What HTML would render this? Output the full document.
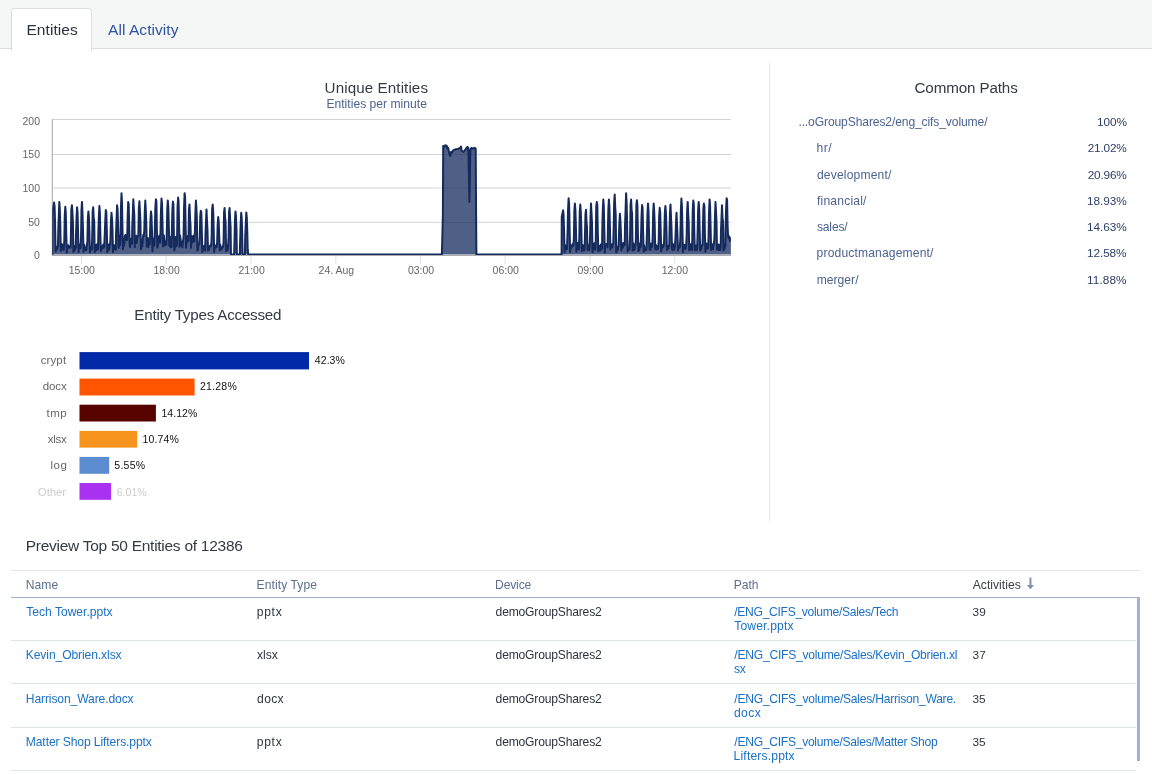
<!DOCTYPE html>
<html><head><meta charset="utf-8"><title>Entities</title>
<style>
html,body{margin:0;padding:0;background:#fff;}
body{width:1152px;height:774px;position:relative;overflow:hidden;font-family:"Liberation Sans", sans-serif;}
.t{position:absolute;white-space:pre;font-family:"Liberation Sans", sans-serif;}
.hdr{position:absolute;left:0;top:0;width:1152px;height:48px;background:#f5f7f7;border-bottom:1px solid #dbdcdd;}
.tab{position:absolute;left:11px;top:8px;width:79px;height:42px;background:#fff;border:1px solid #dcdedf;border-bottom:none;border-radius:4px 4px 0 0;}
.vdiv{position:absolute;left:769px;top:63px;width:1px;height:458px;background:#e5e8ec;}
.chart{position:absolute;left:0;top:0;}
.bar{position:absolute;}
.hl{position:absolute;height:1px;}
.wrap{position:absolute;left:0;top:0;width:1152px;height:774px;will-change:transform;}
</style></head><body>
<div class="wrap"><div class="hdr"></div><div class="tab"></div>
<div class="vdiv"></div>
<svg class='chart' width='1152' height='300' viewBox='0 0 1152 300'>
<line x1='52' x2='731' y1='119.5' y2='119.5' stroke='#d3d3d3' stroke-width='1'/><line x1='52' x2='731' y1='154.5' y2='154.5' stroke='#d3d3d3' stroke-width='1'/><line x1='52' x2='731' y1='188.0' y2='188.0' stroke='#d3d3d3' stroke-width='1'/><line x1='52' x2='731' y1='222.3' y2='222.3' stroke='#d3d3d3' stroke-width='1'/>
<line x1='52' x2='731' y1='255.55' y2='255.55' stroke='#a8a8a8' stroke-width='1'/>
<line x1='52.35' x2='52.35' y1='119.3' y2='256' stroke='#b4b4b4' stroke-width='1.2'/>
<line x1='81.5' x2='81.5' y1='256' y2='264' stroke='#dde3f2' stroke-width='1'/><line x1='166.2' x2='166.2' y1='256' y2='264' stroke='#dde3f2' stroke-width='1'/><line x1='251.0' x2='251.0' y1='256' y2='264' stroke='#dde3f2' stroke-width='1'/><line x1='335.8' x2='335.8' y1='256' y2='264' stroke='#dde3f2' stroke-width='1'/><line x1='420.5' x2='420.5' y1='256' y2='264' stroke='#dde3f2' stroke-width='1'/><line x1='505.2' x2='505.2' y1='256' y2='264' stroke='#dde3f2' stroke-width='1'/><line x1='590.0' x2='590.0' y1='256' y2='264' stroke='#dde3f2' stroke-width='1'/><line x1='674.8' x2='674.8' y1='256' y2='264' stroke='#dde3f2' stroke-width='1'/>
<defs><clipPath id='cp'><rect x='52.3' y='119' width='678.6' height='136.1'/></clipPath></defs>
<g clip-path='url(#cp)'><path d='M52.30,254.6 L52.45,210.4 L54.10,202.6 L54.60,206.9 L55.10,224.4 L55.60,251.5 L56.07,247.5 L56.54,246.9 L57.02,249.6 L57.49,247.4 L57.96,246.6 L58.25,231.0 L58.75,216.7 L59.30,201.9 L59.80,209.3 L60.30,225.5 L60.80,250.8 L61.27,250.6 L61.74,244.3 L62.22,244.4 L62.69,246.5 L63.16,246.7 L63.63,249.8 L64.25,242.4 L64.75,215.5 L65.30,206.7 L65.80,212.8 L66.30,234.9 L66.80,252.8 L67.27,247.8 L67.74,247.9 L68.22,245.2 L68.69,247.4 L69.16,246.6 L69.63,247.5 L70.10,246.4 L70.57,247.8 L70.85,238.9 L71.35,209.3 L71.90,205.3 L72.40,211.7 L72.90,222.0 L73.40,252.0 L73.87,249.3 L74.34,248.9 L74.82,250.4 L75.29,245.7 L75.76,248.2 L76.05,232.8 L76.55,217.5 L77.10,207.3 L77.60,213.4 L78.10,233.3 L78.60,252.3 L79.07,244.7 L79.54,247.7 L80.02,244.3 L80.49,248.2 L80.95,240.5 L81.45,210.5 L82.00,201.9 L82.50,214.1 L83.00,229.5 L83.50,251.9 L83.97,244.4 L84.44,245.8 L84.92,250.1 L85.39,249.2 L85.86,250.2 L86.33,250.5 L86.80,245.5 L87.35,241.9 L87.85,219.0 L88.40,211.4 L88.90,216.9 L89.40,231.6 L89.90,252.5 L90.37,246.5 L90.84,250.1 L91.32,248.0 L91.79,249.5 L92.15,239.6 L92.65,211.4 L93.20,207.3 L93.70,218.0 L94.20,220.8 L94.70,252.3 L95.17,248.2 L95.64,245.1 L96.12,246.6 L96.59,250.2 L97.06,244.2 L97.53,249.4 L98.00,249.1 L98.35,233.1 L98.85,217.1 L99.40,206.0 L99.90,212.9 L100.40,236.5 L100.90,251.1 L101.37,249.2 L101.84,246.8 L102.32,248.4 L102.79,247.8 L103.26,244.4 L103.73,247.6 L104.20,247.0 L104.75,233.8 L105.25,221.6 L105.80,210.0 L106.30,211.9 L106.80,229.9 L107.30,252.2 L107.77,249.6 L108.24,245.9 L108.72,244.5 L109.19,249.6 L109.66,244.5 L110.13,244.9 L110.45,237.8 L110.95,221.4 L111.50,212.8 L112.00,218.8 L112.50,229.9 L113.00,252.2 L113.47,246.1 L113.94,249.2 L114.42,245.3 L114.89,246.9 L115.36,248.9 L115.83,249.7 L116.05,233.4 L116.55,219.4 L117.10,205.3 L117.60,209.4 L118.10,226.9 L118.60,247.8 L119.07,244.0 L119.54,235.8 L120.02,244.9 L120.45,239.0 L120.95,208.0 L121.50,193.2 L122.00,201.9 L122.50,230.4 L123.00,249.3 L123.47,240.2 L123.94,245.9 L124.42,242.9 L124.89,236.1 L125.36,235.0 L125.83,239.1 L126.30,238.7 L126.77,240.1 L127.15,239.6 L127.65,217.3 L128.20,201.9 L128.70,204.1 L129.20,226.9 L129.70,245.8 L130.17,247.3 L130.64,239.4 L131.12,241.4 L131.59,238.2 L132.06,243.5 L132.25,226.9 L132.75,214.9 L133.30,199.2 L133.80,207.4 L134.30,214.7 L134.80,247.1 L135.27,238.5 L135.74,237.4 L136.22,235.8 L136.69,243.0 L137.16,238.8 L137.63,236.0 L138.10,236.4 L138.35,235.7 L138.85,208.0 L139.40,201.3 L139.90,210.7 L140.40,220.6 L140.90,249.2 L141.37,240.1 L141.84,239.7 L142.32,246.5 L142.79,239.3 L143.26,234.8 L143.73,236.3 L144.25,231.3 L144.75,212.2 L145.30,200.6 L145.80,210.1 L146.30,223.2 L146.80,246.6 L147.27,246.5 L147.74,237.9 L148.22,247.2 L148.69,239.8 L149.16,241.4 L149.63,244.6 L149.95,236.3 L150.45,219.6 L151.00,211.4 L151.50,216.3 L152.00,231.8 L152.50,251.3 L152.97,243.7 L153.44,238.8 L153.92,244.9 L154.39,245.4 L154.85,228.2 L155.35,207.8 L155.90,199.2 L156.40,201.6 L156.90,230.7 L157.40,247.6 L157.87,245.0 L158.34,242.0 L158.82,237.2 L159.29,235.8 L159.76,236.3 L160.23,242.6 L160.45,232.4 L160.95,211.5 L161.50,198.6 L162.00,203.6 L162.50,223.3 L163.00,246.5 L163.47,238.4 L163.94,235.4 L164.42,244.0 L164.89,245.4 L165.36,241.8 L165.83,244.0 L166.30,244.8 L166.75,235.5 L167.25,209.4 L167.80,200.6 L168.30,206.7 L168.80,224.4 L169.30,245.7 L169.77,241.7 L170.24,246.6 L170.72,247.1 L171.19,236.4 L171.66,247.0 L171.85,232.0 L172.35,210.9 L172.90,201.6 L173.40,204.5 L173.90,235.8 L174.40,250.6 L174.87,241.7 L175.34,247.2 L175.82,236.9 L176.29,244.5 L176.76,245.7 L177.05,239.7 L177.55,206.7 L178.10,197.5 L178.60,201.7 L179.10,225.3 L179.60,246.7 L180.07,235.3 L180.54,238.8 L181.02,245.0 L181.49,241.5 L181.96,245.3 L182.43,247.4 L182.90,241.5 L183.37,238.4 L183.55,236.5 L184.05,207.9 L184.60,193.2 L185.10,197.2 L185.60,225.1 L186.10,247.8 L186.57,237.8 L187.04,242.5 L187.52,237.4 L187.99,235.9 L188.45,241.0 L188.95,209.4 L189.50,204.6 L190.00,217.5 L190.50,225.3 L191.00,247.8 L191.47,235.9 L191.94,242.7 L192.42,240.3 L192.89,236.3 L193.36,237.3 L193.83,235.4 L194.30,241.6 L194.85,232.3 L195.35,214.4 L195.90,200.6 L196.40,207.8 L196.90,219.9 L197.40,250.7 L197.87,249.4 L198.34,244.8 L198.82,244.3 L199.29,244.3 L199.75,237.7 L200.25,216.3 L200.80,210.7 L201.30,212.5 L201.80,229.9 L202.30,251.9 L202.77,250.3 L203.24,247.9 L203.72,247.2 L204.19,245.7 L204.66,247.6 L205.13,250.7 L205.45,234.1 L205.95,222.3 L206.50,209.4 L207.00,220.6 L207.50,229.7 L208.00,250.5 L208.47,249.9 L208.94,249.9 L209.42,247.4 L209.89,246.0 L210.36,245.2 L210.83,246.2 L211.30,244.5 L211.65,236.0 L212.15,209.2 L212.70,204.6 L213.20,210.8 L213.70,230.5 L214.20,252.0 L214.67,246.0 L215.14,246.6 L215.62,247.4 L216.09,245.2 L216.56,247.1 L217.15,242.3 L217.65,225.2 L218.20,217.1 L218.70,221.6 L219.20,235.4 L219.70,250.3 L220.17,244.4 L220.64,247.3 L221.12,247.0 L221.59,249.5 L222.06,247.3 L222.53,247.5 L223.00,246.8 L223.55,242.6 L224.05,212.1 L224.60,208.0 L225.10,217.7 L225.60,222.4 L226.10,251.2 L226.57,247.6 L227.04,246.2 L227.52,250.4 L227.99,247.3 L228.55,238.1 L229.05,212.2 L229.60,208.0 L230.10,218.8 L230.60,227.0 L230.95,254.4 L234.10,254.4 L234.45,242.4 L234.95,220.2 L235.50,211.4 L236.00,216.5 L236.50,229.0 L236.85,254.4 L239.80,254.4 L240.15,240.8 L240.65,223.5 L241.20,212.8 L241.70,217.5 L242.20,234.1 L242.55,254.4 L244.90,254.4 L245.25,235.8 L245.75,224.9 L246.30,212.4 L246.80,217.6 L247.30,232.6 L247.70,249.2 L248.20,254.4 L425.00,254.4 L441.90,254.4 L442.90,214.1 L443.20,145.9 L444.50,146.6 L445.20,145.2 L446.80,145.9 L447.30,148.6 L448.20,147.9 L449.20,153.3 L450.20,156.0 L451.00,152.0 L452.00,152.7 L452.80,150.6 L454.00,150.0 L455.50,149.3 L457.00,149.0 L458.50,148.6 L460.00,147.9 L461.00,146.6 L461.60,150.6 L462.50,151.3 L463.50,152.0 L464.50,150.6 L465.50,149.3 L466.50,147.9 L467.50,146.9 L468.30,147.9 L468.90,173.6 L469.40,201.9 L469.90,173.6 L470.40,149.3 L471.50,147.9 L473.00,148.6 L474.50,147.9 L475.70,148.6 L476.10,214.1 L476.40,254.4 L561.20,254.4 L561.60,254.6 L561.75,216.9 L563.10,210.3 L563.60,215.0 L564.10,232.2 L564.60,252.4 L565.07,245.1 L565.54,249.6 L566.02,246.7 L566.49,248.7 L566.96,249.0 L567.55,233.0 L568.05,209.7 L568.60,198.2 L569.10,203.8 L569.60,227.4 L570.10,252.2 L570.57,249.0 L571.04,245.8 L571.52,245.8 L571.99,246.6 L572.46,244.2 L572.93,246.0 L573.40,244.2 L573.85,238.9 L574.35,210.6 L574.90,203.6 L575.40,209.6 L575.90,226.8 L576.40,251.7 L576.87,243.7 L577.34,248.9 L577.82,243.1 L578.29,243.9 L578.76,249.5 L579.25,239.1 L579.75,211.7 L580.30,204.6 L580.80,211.6 L581.30,226.7 L581.80,251.3 L582.27,244.7 L582.74,249.6 L583.22,247.5 L583.69,245.4 L584.16,250.4 L584.63,249.0 L584.95,235.8 L585.45,214.3 L586.00,209.8 L586.50,221.4 L587.00,227.7 L587.50,250.2 L587.97,246.8 L588.44,245.4 L588.92,249.1 L589.39,250.0 L589.95,240.5 L590.45,218.5 L591.00,203.6 L591.50,213.2 L592.00,223.0 L592.50,252.3 L592.97,249.1 L593.44,249.0 L593.92,244.3 L594.39,243.2 L594.86,243.6 L595.33,249.8 L595.75,240.6 L596.25,206.7 L596.80,201.9 L597.30,205.0 L597.80,231.9 L598.30,251.2 L598.77,246.7 L599.24,247.3 L599.72,246.1 L600.19,250.4 L600.66,245.3 L601.13,244.2 L601.60,249.2 L602.07,247.1 L602.25,230.6 L602.75,211.0 L603.30,199.4 L603.80,206.6 L604.30,228.2 L604.80,252.7 L605.27,243.9 L605.74,244.6 L606.22,245.3 L606.69,244.1 L607.16,245.8 L607.63,247.5 L607.85,232.5 L608.35,209.8 L608.90,199.4 L609.40,206.8 L609.90,225.5 L610.40,249.7 L610.87,245.0 L611.34,244.7 L611.82,244.5 L612.29,247.5 L612.76,243.9 L613.23,244.0 L613.65,229.1 L614.15,202.4 L614.70,194.5 L615.20,207.0 L615.70,214.5 L616.20,252.5 L616.67,248.0 L617.14,247.0 L617.62,250.4 L618.09,247.9 L618.56,245.8 L618.85,238.0 L619.35,223.9 L619.90,213.7 L620.40,220.2 L620.90,232.0 L621.40,250.5 L621.87,246.3 L622.34,246.6 L622.82,247.6 L623.29,243.1 L623.76,245.7 L624.23,245.3 L624.70,244.9 L625.05,224.3 L625.55,211.4 L626.10,193.3 L626.60,202.3 L627.10,222.3 L627.60,251.4 L628.07,250.1 L628.54,249.1 L629.02,247.7 L629.49,249.8 L630.05,237.3 L630.55,204.9 L631.10,199.4 L631.60,209.8 L632.10,213.7 L632.60,250.8 L633.07,243.1 L633.54,245.8 L634.02,244.5 L634.49,250.0 L634.96,246.1 L635.43,244.9 L635.85,240.4 L636.35,205.4 L636.90,200.3 L637.40,205.3 L637.90,233.3 L638.40,251.1 L638.87,246.0 L639.34,250.1 L639.82,243.5 L640.29,247.4 L640.76,246.6 L641.05,234.8 L641.55,215.8 L642.10,204.9 L642.60,208.5 L643.10,230.2 L643.60,251.8 L644.07,245.2 L644.54,248.3 L645.02,250.4 L645.49,248.7 L645.96,250.2 L646.43,249.4 L646.95,232.2 L647.45,214.6 L648.00,203.6 L648.50,211.0 L649.00,230.9 L649.50,249.4 L649.97,243.5 L650.44,250.0 L650.92,243.8 L651.39,247.3 L651.86,247.0 L652.33,243.3 L652.65,238.8 L653.15,213.1 L653.70,203.6 L654.20,211.3 L654.70,224.5 L655.20,249.5 L655.67,244.5 L656.14,246.0 L656.62,249.7 L657.09,245.9 L657.56,247.1 L658.03,249.0 L658.65,242.3 L659.15,216.4 L659.70,207.8 L660.20,212.3 L660.70,230.4 L661.20,251.2 L661.67,248.6 L662.14,246.2 L662.62,247.4 L663.09,244.7 L663.56,246.6 L664.03,243.1 L664.35,230.9 L664.85,212.7 L665.40,206.0 L665.90,212.6 L666.40,226.7 L666.90,250.1 L667.37,245.9 L667.84,247.8 L668.32,248.5 L668.79,245.4 L669.26,246.3 L669.45,234.6 L669.95,212.5 L670.50,204.4 L671.00,216.7 L671.50,228.3 L672.00,249.5 L672.47,243.7 L672.94,244.0 L673.42,250.2 L673.89,250.1 L674.36,248.5 L674.83,247.4 L675.45,237.6 L675.95,224.4 L676.50,212.8 L677.00,223.9 L677.50,234.7 L678.00,250.5 L678.47,246.4 L678.94,245.8 L679.42,247.7 L679.89,247.0 L680.35,237.6 L680.85,211.1 L681.40,198.6 L681.90,205.8 L682.40,228.1 L682.90,252.3 L683.37,244.5 L683.84,245.9 L684.32,244.8 L684.79,248.9 L685.26,247.4 L685.73,248.6 L686.20,244.5 L686.65,236.6 L687.15,210.2 L687.70,201.9 L688.20,213.6 L688.70,222.2 L689.20,250.3 L689.67,243.7 L690.14,247.3 L690.62,247.8 L691.09,249.8 L691.56,244.0 L692.03,249.9 L692.25,240.0 L692.75,210.1 L693.30,200.6 L693.80,204.3 L694.30,231.7 L694.80,250.2 L695.27,250.0 L695.74,248.9 L696.22,245.6 L696.69,249.9 L697.16,248.3 L697.65,231.9 L698.15,209.7 L698.70,201.9 L699.20,208.9 L699.70,231.5 L700.20,250.3 L700.67,247.8 L701.14,249.6 L701.62,245.2 L702.09,246.3 L702.56,243.7 L702.85,229.9 L703.35,208.7 L703.90,203.6 L704.40,206.4 L704.90,232.9 L705.40,251.7 L705.87,247.5 L706.34,243.6 L706.82,243.9 L707.29,248.7 L707.76,247.8 L708.23,247.8 L708.55,235.8 L709.05,211.1 L709.60,199.4 L710.10,206.4 L710.60,227.5 L711.10,250.1 L711.57,246.5 L712.04,244.3 L712.52,246.3 L712.99,249.2 L713.46,244.9 L713.93,244.0 L714.45,237.7 L714.95,217.5 L715.50,201.9 L716.00,211.5 L716.50,221.9 L717.00,249.5 L717.47,245.7 L717.94,244.5 L718.42,250.0 L718.89,246.5 L719.36,244.7 L719.83,249.9 L720.30,249.9 L720.77,245.0 L720.95,231.2 L721.45,219.2 L722.00,205.3 L722.50,217.8 L723.00,221.4 L723.50,250.6 L723.97,248.7 L724.44,248.9 L724.92,244.8 L725.39,246.6 L725.55,229.7 L726.05,210.2 L726.60,198.2 L727.10,200.1 L727.60,225.4 L728.00,234.3 L728.60,238.4 L729.20,236.4 L730.00,241.1 L731.50,237.7 L731.5,254.6 L52.3,254.6 Z' fill='#152a5c' fill-opacity='0.75' stroke='none'/>
<path d='M52.30,254.6 L52.45,210.4 L54.10,202.6 L54.60,206.9 L55.10,224.4 L55.60,251.5 L56.07,247.5 L56.54,246.9 L57.02,249.6 L57.49,247.4 L57.96,246.6 L58.25,231.0 L58.75,216.7 L59.30,201.9 L59.80,209.3 L60.30,225.5 L60.80,250.8 L61.27,250.6 L61.74,244.3 L62.22,244.4 L62.69,246.5 L63.16,246.7 L63.63,249.8 L64.25,242.4 L64.75,215.5 L65.30,206.7 L65.80,212.8 L66.30,234.9 L66.80,252.8 L67.27,247.8 L67.74,247.9 L68.22,245.2 L68.69,247.4 L69.16,246.6 L69.63,247.5 L70.10,246.4 L70.57,247.8 L70.85,238.9 L71.35,209.3 L71.90,205.3 L72.40,211.7 L72.90,222.0 L73.40,252.0 L73.87,249.3 L74.34,248.9 L74.82,250.4 L75.29,245.7 L75.76,248.2 L76.05,232.8 L76.55,217.5 L77.10,207.3 L77.60,213.4 L78.10,233.3 L78.60,252.3 L79.07,244.7 L79.54,247.7 L80.02,244.3 L80.49,248.2 L80.95,240.5 L81.45,210.5 L82.00,201.9 L82.50,214.1 L83.00,229.5 L83.50,251.9 L83.97,244.4 L84.44,245.8 L84.92,250.1 L85.39,249.2 L85.86,250.2 L86.33,250.5 L86.80,245.5 L87.35,241.9 L87.85,219.0 L88.40,211.4 L88.90,216.9 L89.40,231.6 L89.90,252.5 L90.37,246.5 L90.84,250.1 L91.32,248.0 L91.79,249.5 L92.15,239.6 L92.65,211.4 L93.20,207.3 L93.70,218.0 L94.20,220.8 L94.70,252.3 L95.17,248.2 L95.64,245.1 L96.12,246.6 L96.59,250.2 L97.06,244.2 L97.53,249.4 L98.00,249.1 L98.35,233.1 L98.85,217.1 L99.40,206.0 L99.90,212.9 L100.40,236.5 L100.90,251.1 L101.37,249.2 L101.84,246.8 L102.32,248.4 L102.79,247.8 L103.26,244.4 L103.73,247.6 L104.20,247.0 L104.75,233.8 L105.25,221.6 L105.80,210.0 L106.30,211.9 L106.80,229.9 L107.30,252.2 L107.77,249.6 L108.24,245.9 L108.72,244.5 L109.19,249.6 L109.66,244.5 L110.13,244.9 L110.45,237.8 L110.95,221.4 L111.50,212.8 L112.00,218.8 L112.50,229.9 L113.00,252.2 L113.47,246.1 L113.94,249.2 L114.42,245.3 L114.89,246.9 L115.36,248.9 L115.83,249.7 L116.05,233.4 L116.55,219.4 L117.10,205.3 L117.60,209.4 L118.10,226.9 L118.60,247.8 L119.07,244.0 L119.54,235.8 L120.02,244.9 L120.45,239.0 L120.95,208.0 L121.50,193.2 L122.00,201.9 L122.50,230.4 L123.00,249.3 L123.47,240.2 L123.94,245.9 L124.42,242.9 L124.89,236.1 L125.36,235.0 L125.83,239.1 L126.30,238.7 L126.77,240.1 L127.15,239.6 L127.65,217.3 L128.20,201.9 L128.70,204.1 L129.20,226.9 L129.70,245.8 L130.17,247.3 L130.64,239.4 L131.12,241.4 L131.59,238.2 L132.06,243.5 L132.25,226.9 L132.75,214.9 L133.30,199.2 L133.80,207.4 L134.30,214.7 L134.80,247.1 L135.27,238.5 L135.74,237.4 L136.22,235.8 L136.69,243.0 L137.16,238.8 L137.63,236.0 L138.10,236.4 L138.35,235.7 L138.85,208.0 L139.40,201.3 L139.90,210.7 L140.40,220.6 L140.90,249.2 L141.37,240.1 L141.84,239.7 L142.32,246.5 L142.79,239.3 L143.26,234.8 L143.73,236.3 L144.25,231.3 L144.75,212.2 L145.30,200.6 L145.80,210.1 L146.30,223.2 L146.80,246.6 L147.27,246.5 L147.74,237.9 L148.22,247.2 L148.69,239.8 L149.16,241.4 L149.63,244.6 L149.95,236.3 L150.45,219.6 L151.00,211.4 L151.50,216.3 L152.00,231.8 L152.50,251.3 L152.97,243.7 L153.44,238.8 L153.92,244.9 L154.39,245.4 L154.85,228.2 L155.35,207.8 L155.90,199.2 L156.40,201.6 L156.90,230.7 L157.40,247.6 L157.87,245.0 L158.34,242.0 L158.82,237.2 L159.29,235.8 L159.76,236.3 L160.23,242.6 L160.45,232.4 L160.95,211.5 L161.50,198.6 L162.00,203.6 L162.50,223.3 L163.00,246.5 L163.47,238.4 L163.94,235.4 L164.42,244.0 L164.89,245.4 L165.36,241.8 L165.83,244.0 L166.30,244.8 L166.75,235.5 L167.25,209.4 L167.80,200.6 L168.30,206.7 L168.80,224.4 L169.30,245.7 L169.77,241.7 L170.24,246.6 L170.72,247.1 L171.19,236.4 L171.66,247.0 L171.85,232.0 L172.35,210.9 L172.90,201.6 L173.40,204.5 L173.90,235.8 L174.40,250.6 L174.87,241.7 L175.34,247.2 L175.82,236.9 L176.29,244.5 L176.76,245.7 L177.05,239.7 L177.55,206.7 L178.10,197.5 L178.60,201.7 L179.10,225.3 L179.60,246.7 L180.07,235.3 L180.54,238.8 L181.02,245.0 L181.49,241.5 L181.96,245.3 L182.43,247.4 L182.90,241.5 L183.37,238.4 L183.55,236.5 L184.05,207.9 L184.60,193.2 L185.10,197.2 L185.60,225.1 L186.10,247.8 L186.57,237.8 L187.04,242.5 L187.52,237.4 L187.99,235.9 L188.45,241.0 L188.95,209.4 L189.50,204.6 L190.00,217.5 L190.50,225.3 L191.00,247.8 L191.47,235.9 L191.94,242.7 L192.42,240.3 L192.89,236.3 L193.36,237.3 L193.83,235.4 L194.30,241.6 L194.85,232.3 L195.35,214.4 L195.90,200.6 L196.40,207.8 L196.90,219.9 L197.40,250.7 L197.87,249.4 L198.34,244.8 L198.82,244.3 L199.29,244.3 L199.75,237.7 L200.25,216.3 L200.80,210.7 L201.30,212.5 L201.80,229.9 L202.30,251.9 L202.77,250.3 L203.24,247.9 L203.72,247.2 L204.19,245.7 L204.66,247.6 L205.13,250.7 L205.45,234.1 L205.95,222.3 L206.50,209.4 L207.00,220.6 L207.50,229.7 L208.00,250.5 L208.47,249.9 L208.94,249.9 L209.42,247.4 L209.89,246.0 L210.36,245.2 L210.83,246.2 L211.30,244.5 L211.65,236.0 L212.15,209.2 L212.70,204.6 L213.20,210.8 L213.70,230.5 L214.20,252.0 L214.67,246.0 L215.14,246.6 L215.62,247.4 L216.09,245.2 L216.56,247.1 L217.15,242.3 L217.65,225.2 L218.20,217.1 L218.70,221.6 L219.20,235.4 L219.70,250.3 L220.17,244.4 L220.64,247.3 L221.12,247.0 L221.59,249.5 L222.06,247.3 L222.53,247.5 L223.00,246.8 L223.55,242.6 L224.05,212.1 L224.60,208.0 L225.10,217.7 L225.60,222.4 L226.10,251.2 L226.57,247.6 L227.04,246.2 L227.52,250.4 L227.99,247.3 L228.55,238.1 L229.05,212.2 L229.60,208.0 L230.10,218.8 L230.60,227.0 L230.95,254.4 L234.10,254.4 L234.45,242.4 L234.95,220.2 L235.50,211.4 L236.00,216.5 L236.50,229.0 L236.85,254.4 L239.80,254.4 L240.15,240.8 L240.65,223.5 L241.20,212.8 L241.70,217.5 L242.20,234.1 L242.55,254.4 L244.90,254.4 L245.25,235.8 L245.75,224.9 L246.30,212.4 L246.80,217.6 L247.30,232.6 L247.70,249.2 L248.20,254.4 L425.00,254.4 L441.90,254.4 L442.90,214.1 L443.20,145.9 L444.50,146.6 L445.20,145.2 L446.80,145.9 L447.30,148.6 L448.20,147.9 L449.20,153.3 L450.20,156.0 L451.00,152.0 L452.00,152.7 L452.80,150.6 L454.00,150.0 L455.50,149.3 L457.00,149.0 L458.50,148.6 L460.00,147.9 L461.00,146.6 L461.60,150.6 L462.50,151.3 L463.50,152.0 L464.50,150.6 L465.50,149.3 L466.50,147.9 L467.50,146.9 L468.30,147.9 L468.90,173.6 L469.40,201.9 L469.90,173.6 L470.40,149.3 L471.50,147.9 L473.00,148.6 L474.50,147.9 L475.70,148.6 L476.10,214.1 L476.40,254.4 L561.20,254.4 L561.60,254.6 L561.75,216.9 L563.10,210.3 L563.60,215.0 L564.10,232.2 L564.60,252.4 L565.07,245.1 L565.54,249.6 L566.02,246.7 L566.49,248.7 L566.96,249.0 L567.55,233.0 L568.05,209.7 L568.60,198.2 L569.10,203.8 L569.60,227.4 L570.10,252.2 L570.57,249.0 L571.04,245.8 L571.52,245.8 L571.99,246.6 L572.46,244.2 L572.93,246.0 L573.40,244.2 L573.85,238.9 L574.35,210.6 L574.90,203.6 L575.40,209.6 L575.90,226.8 L576.40,251.7 L576.87,243.7 L577.34,248.9 L577.82,243.1 L578.29,243.9 L578.76,249.5 L579.25,239.1 L579.75,211.7 L580.30,204.6 L580.80,211.6 L581.30,226.7 L581.80,251.3 L582.27,244.7 L582.74,249.6 L583.22,247.5 L583.69,245.4 L584.16,250.4 L584.63,249.0 L584.95,235.8 L585.45,214.3 L586.00,209.8 L586.50,221.4 L587.00,227.7 L587.50,250.2 L587.97,246.8 L588.44,245.4 L588.92,249.1 L589.39,250.0 L589.95,240.5 L590.45,218.5 L591.00,203.6 L591.50,213.2 L592.00,223.0 L592.50,252.3 L592.97,249.1 L593.44,249.0 L593.92,244.3 L594.39,243.2 L594.86,243.6 L595.33,249.8 L595.75,240.6 L596.25,206.7 L596.80,201.9 L597.30,205.0 L597.80,231.9 L598.30,251.2 L598.77,246.7 L599.24,247.3 L599.72,246.1 L600.19,250.4 L600.66,245.3 L601.13,244.2 L601.60,249.2 L602.07,247.1 L602.25,230.6 L602.75,211.0 L603.30,199.4 L603.80,206.6 L604.30,228.2 L604.80,252.7 L605.27,243.9 L605.74,244.6 L606.22,245.3 L606.69,244.1 L607.16,245.8 L607.63,247.5 L607.85,232.5 L608.35,209.8 L608.90,199.4 L609.40,206.8 L609.90,225.5 L610.40,249.7 L610.87,245.0 L611.34,244.7 L611.82,244.5 L612.29,247.5 L612.76,243.9 L613.23,244.0 L613.65,229.1 L614.15,202.4 L614.70,194.5 L615.20,207.0 L615.70,214.5 L616.20,252.5 L616.67,248.0 L617.14,247.0 L617.62,250.4 L618.09,247.9 L618.56,245.8 L618.85,238.0 L619.35,223.9 L619.90,213.7 L620.40,220.2 L620.90,232.0 L621.40,250.5 L621.87,246.3 L622.34,246.6 L622.82,247.6 L623.29,243.1 L623.76,245.7 L624.23,245.3 L624.70,244.9 L625.05,224.3 L625.55,211.4 L626.10,193.3 L626.60,202.3 L627.10,222.3 L627.60,251.4 L628.07,250.1 L628.54,249.1 L629.02,247.7 L629.49,249.8 L630.05,237.3 L630.55,204.9 L631.10,199.4 L631.60,209.8 L632.10,213.7 L632.60,250.8 L633.07,243.1 L633.54,245.8 L634.02,244.5 L634.49,250.0 L634.96,246.1 L635.43,244.9 L635.85,240.4 L636.35,205.4 L636.90,200.3 L637.40,205.3 L637.90,233.3 L638.40,251.1 L638.87,246.0 L639.34,250.1 L639.82,243.5 L640.29,247.4 L640.76,246.6 L641.05,234.8 L641.55,215.8 L642.10,204.9 L642.60,208.5 L643.10,230.2 L643.60,251.8 L644.07,245.2 L644.54,248.3 L645.02,250.4 L645.49,248.7 L645.96,250.2 L646.43,249.4 L646.95,232.2 L647.45,214.6 L648.00,203.6 L648.50,211.0 L649.00,230.9 L649.50,249.4 L649.97,243.5 L650.44,250.0 L650.92,243.8 L651.39,247.3 L651.86,247.0 L652.33,243.3 L652.65,238.8 L653.15,213.1 L653.70,203.6 L654.20,211.3 L654.70,224.5 L655.20,249.5 L655.67,244.5 L656.14,246.0 L656.62,249.7 L657.09,245.9 L657.56,247.1 L658.03,249.0 L658.65,242.3 L659.15,216.4 L659.70,207.8 L660.20,212.3 L660.70,230.4 L661.20,251.2 L661.67,248.6 L662.14,246.2 L662.62,247.4 L663.09,244.7 L663.56,246.6 L664.03,243.1 L664.35,230.9 L664.85,212.7 L665.40,206.0 L665.90,212.6 L666.40,226.7 L666.90,250.1 L667.37,245.9 L667.84,247.8 L668.32,248.5 L668.79,245.4 L669.26,246.3 L669.45,234.6 L669.95,212.5 L670.50,204.4 L671.00,216.7 L671.50,228.3 L672.00,249.5 L672.47,243.7 L672.94,244.0 L673.42,250.2 L673.89,250.1 L674.36,248.5 L674.83,247.4 L675.45,237.6 L675.95,224.4 L676.50,212.8 L677.00,223.9 L677.50,234.7 L678.00,250.5 L678.47,246.4 L678.94,245.8 L679.42,247.7 L679.89,247.0 L680.35,237.6 L680.85,211.1 L681.40,198.6 L681.90,205.8 L682.40,228.1 L682.90,252.3 L683.37,244.5 L683.84,245.9 L684.32,244.8 L684.79,248.9 L685.26,247.4 L685.73,248.6 L686.20,244.5 L686.65,236.6 L687.15,210.2 L687.70,201.9 L688.20,213.6 L688.70,222.2 L689.20,250.3 L689.67,243.7 L690.14,247.3 L690.62,247.8 L691.09,249.8 L691.56,244.0 L692.03,249.9 L692.25,240.0 L692.75,210.1 L693.30,200.6 L693.80,204.3 L694.30,231.7 L694.80,250.2 L695.27,250.0 L695.74,248.9 L696.22,245.6 L696.69,249.9 L697.16,248.3 L697.65,231.9 L698.15,209.7 L698.70,201.9 L699.20,208.9 L699.70,231.5 L700.20,250.3 L700.67,247.8 L701.14,249.6 L701.62,245.2 L702.09,246.3 L702.56,243.7 L702.85,229.9 L703.35,208.7 L703.90,203.6 L704.40,206.4 L704.90,232.9 L705.40,251.7 L705.87,247.5 L706.34,243.6 L706.82,243.9 L707.29,248.7 L707.76,247.8 L708.23,247.8 L708.55,235.8 L709.05,211.1 L709.60,199.4 L710.10,206.4 L710.60,227.5 L711.10,250.1 L711.57,246.5 L712.04,244.3 L712.52,246.3 L712.99,249.2 L713.46,244.9 L713.93,244.0 L714.45,237.7 L714.95,217.5 L715.50,201.9 L716.00,211.5 L716.50,221.9 L717.00,249.5 L717.47,245.7 L717.94,244.5 L718.42,250.0 L718.89,246.5 L719.36,244.7 L719.83,249.9 L720.30,249.9 L720.77,245.0 L720.95,231.2 L721.45,219.2 L722.00,205.3 L722.50,217.8 L723.00,221.4 L723.50,250.6 L723.97,248.7 L724.44,248.9 L724.92,244.8 L725.39,246.6 L725.55,229.7 L726.05,210.2 L726.60,198.2 L727.10,200.1 L727.60,225.4 L728.00,234.3 L728.60,238.4 L729.20,236.4 L730.00,241.1 L731.50,237.7' fill='none' stroke='#152a5c' stroke-width='2' stroke-linejoin='round' stroke-linecap='round'/></g>
</svg>
<svg class='chart' style='top:340px' width='400' height='180' viewBox='0 340 400 180'><rect x='79.5' y='352.1' width='229.5' height='17.3' fill='#0229a8'/><rect x='79.5' y='378.6' width='115.1' height='16.9' fill='#ff5500'/><rect x='79.5' y='404.7' width='76.4' height='16.8' fill='#560300'/><rect x='79.5' y='430.9' width='57.7' height='16.7' fill='#f7941d'/><rect x='79.5' y='456.9' width='29.7' height='16.9' fill='#5b8cd0'/><rect x='79.5' y='483.0' width='31.6' height='16.8' fill='#a832f0'/></svg>
<div class='hl' style='left:11px;top:570px;width:1129px;background:#e3e7ec'></div><div class='hl' style='left:11px;top:597px;width:1129px;background:#9db0cc'></div><div class='hl' style='left:11px;top:640px;width:1125px;background:#dfe4ea'></div><div class='hl' style='left:11px;top:683px;width:1125px;background:#dfe4ea'></div><div class='hl' style='left:11px;top:727px;width:1125px;background:#dfe4ea'></div><div class='hl' style='left:11px;top:770px;width:1125px;background:#dfe4ea'></div><div style='position:absolute;left:1137px;top:597px;width:3px;height:163.7px;background:#a0b2cd'></div>
<svg style='position:absolute;left:1020px;top:570px' width='20' height='24' viewBox='0 0 20 24'><rect x='9.45' y='7.6' width='2' height='8.2' fill='#7f92b3'/><path d='M6.9 14.9 H14.0 L10.45 19.3 Z' fill='#7f92b3'/></svg>
<span class='t' style='left:26.47px;top:22px;font-size:15.5px;line-height:15.5px;color:#2a3040;letter-spacing:0.062px'>Entities</span><span class='t' style='left:108.07px;top:22px;font-size:15.5px;line-height:15.5px;color:#2f55a4;letter-spacing:0.058px'>All Activity</span><span class='t' style='left:324.59px;top:80px;font-size:15.2px;line-height:15.2px;color:#333a45;letter-spacing:0.091px'>Unique Entities</span><span class='t' style='left:326.40px;top:98px;font-size:12.1px;line-height:12.1px;color:#4c6390;letter-spacing:0.018px'>Entities per minute</span><span class='t' style='left:914.52px;top:80px;font-size:15.2px;line-height:15.2px;color:#333a45;letter-spacing:-0.131px'>Common Paths</span><span class='t' style='left:134.28px;top:307px;font-size:15.2px;line-height:15.2px;color:#333a45;letter-spacing:-0.220px'>Entity Types Accessed</span><span class='t' style='left:25.70px;top:538px;font-size:15.5px;line-height:15.5px;color:#333a45;letter-spacing:-0.268px'>Preview Top 50 Entities of 12386</span><span class='t' style='left:22.46px;top:116px;font-size:10.5px;line-height:10.5px;color:#666666;letter-spacing:0.000px'>200</span><span class='t' style='left:22.49px;top:149px;font-size:10.5px;line-height:10.5px;color:#666666;letter-spacing:0.000px'>150</span><span class='t' style='left:22.49px;top:183px;font-size:10.5px;line-height:10.5px;color:#666666;letter-spacing:0.000px'>100</span><span class='t' style='left:28.21px;top:217px;font-size:10.5px;line-height:10.5px;color:#666666;letter-spacing:0.000px'>50</span><span class='t' style='left:33.99px;top:250px;font-size:10.5px;line-height:10.5px;color:#666666;letter-spacing:0.000px'>0</span><span class='t' style='left:68.63px;top:265px;font-size:10.5px;line-height:10.5px;color:#666666;letter-spacing:0.000px'>15:00</span><span class='t' style='left:153.52px;top:265px;font-size:10.5px;line-height:10.5px;color:#666666;letter-spacing:0.000px'>18:00</span><span class='t' style='left:238.47px;top:265px;font-size:10.5px;line-height:10.5px;color:#666666;letter-spacing:0.000px'>21:00</span><span class='t' style='left:318.55px;top:265px;font-size:10.5px;line-height:10.5px;color:#666666;letter-spacing:0.000px'>24. Aug</span><span class='t' style='left:407.92px;top:265px;font-size:10.5px;line-height:10.5px;color:#666666;letter-spacing:0.000px'>03:00</span><span class='t' style='left:492.61px;top:265px;font-size:10.5px;line-height:10.5px;color:#666666;letter-spacing:0.000px'>06:00</span><span class='t' style='left:577.43px;top:265px;font-size:10.5px;line-height:10.5px;color:#666666;letter-spacing:0.000px'>09:00</span><span class='t' style='left:661.75px;top:265px;font-size:10.5px;line-height:10.5px;color:#666666;letter-spacing:0.000px'>12:00</span><span class='t' style='left:798.40px;top:116px;font-size:12.1px;line-height:12.1px;color:#4c6390;letter-spacing:-0.120px'>...oGroupShares2/eng_cifs_volume/</span><span class='t' style='left:1097.00px;top:117px;font-size:11.8px;line-height:11.8px;color:#2f4068;letter-spacing:-0.095px'>100%</span><span class='t' style='left:816.53px;top:142px;font-size:12.1px;line-height:12.1px;color:#4c6390;letter-spacing:0.516px'>hr/</span><span class='t' style='left:1087.68px;top:143px;font-size:11.8px;line-height:11.8px;color:#2f4068;letter-spacing:-0.186px'>21.02%</span><span class='t' style='left:816.93px;top:169px;font-size:12.1px;line-height:12.1px;color:#4c6390;letter-spacing:0.165px'>development/</span><span class='t' style='left:1087.68px;top:170px;font-size:11.8px;line-height:11.8px;color:#2f4068;letter-spacing:-0.186px'>20.96%</span><span class='t' style='left:817.07px;top:195px;font-size:12.1px;line-height:12.1px;color:#4c6390;letter-spacing:0.174px'>financial/</span><span class='t' style='left:1087.06px;top:196px;font-size:11.8px;line-height:11.8px;color:#2f4068;letter-spacing:-0.063px'>18.93%</span><span class='t' style='left:816.92px;top:221px;font-size:12.1px;line-height:12.1px;color:#4c6390;letter-spacing:-0.157px'>sales/</span><span class='t' style='left:1087.06px;top:222px;font-size:11.8px;line-height:11.8px;color:#2f4068;letter-spacing:-0.063px'>14.63%</span><span class='t' style='left:816.62px;top:247px;font-size:12.1px;line-height:12.1px;color:#4c6390;letter-spacing:0.151px'>productmanagement/</span><span class='t' style='left:1087.09px;top:248px;font-size:11.8px;line-height:11.8px;color:#2f4068;letter-spacing:-0.111px'>12.58%</span><span class='t' style='left:816.74px;top:274px;font-size:12.1px;line-height:12.1px;color:#4c6390;letter-spacing:0.019px'>merger/</span><span class='t' style='left:1087.07px;top:275px;font-size:11.8px;line-height:11.8px;color:#2f4068;letter-spacing:0.078px'>11.88%</span><span class='t' style='left:40.66px;top:355px;font-size:11.5px;line-height:11.5px;color:#666666;letter-spacing:0.126px'>crypt</span><span class='t' style='left:314.83px;top:355px;font-size:10.5px;line-height:10.5px;color:#111111;letter-spacing:0.059px'>42.3%</span><span class='t' style='left:42.79px;top:381px;font-size:11.5px;line-height:11.5px;color:#666666;letter-spacing:-0.135px'>docx</span><span class='t' style='left:199.91px;top:381px;font-size:10.5px;line-height:10.5px;color:#111111;letter-spacing:0.245px'>21.28%</span><span class='t' style='left:46.48px;top:408px;font-size:11.5px;line-height:11.5px;color:#666666;letter-spacing:0.539px'>tmp</span><span class='t' style='left:161.38px;top:408px;font-size:10.5px;line-height:10.5px;color:#111111;letter-spacing:0.069px'>14.12%</span><span class='t' style='left:47.69px;top:434px;font-size:11.5px;line-height:11.5px;color:#666666;letter-spacing:-0.217px'>xlsx</span><span class='t' style='left:142.57px;top:434px;font-size:10.5px;line-height:10.5px;color:#111111;letter-spacing:0.123px'>10.74%</span><span class='t' style='left:50.49px;top:460px;font-size:11.5px;line-height:11.5px;color:#666666;letter-spacing:0.486px'>log</span><span class='t' style='left:114.37px;top:460px;font-size:10.5px;line-height:10.5px;color:#111111;letter-spacing:0.240px'>5.55%</span><span class='t' style='left:37.80px;top:487px;font-size:11.5px;line-height:11.5px;color:#cccccc;letter-spacing:-0.101px'>Other</span><span class='t' style='left:116.64px;top:487px;font-size:10.5px;line-height:10.5px;color:#cccccc;letter-spacing:0.073px'>6.01%</span><span class='t' style='left:25.78px;top:579px;font-size:12.1px;line-height:12.1px;color:#5c6f92;letter-spacing:0.028px'>Name</span><span class='t' style='left:256.62px;top:579px;font-size:12.1px;line-height:12.1px;color:#5c6f92;letter-spacing:0.069px'>Entity Type</span><span class='t' style='left:495.12px;top:579px;font-size:12.1px;line-height:12.1px;color:#5c6f92;letter-spacing:-0.166px'>Device</span><span class='t' style='left:733.64px;top:579px;font-size:12.1px;line-height:12.1px;color:#5c6f92;letter-spacing:0.016px'>Path</span><span class='t' style='left:972.77px;top:579px;font-size:12.1px;line-height:12.1px;color:#3b4049;letter-spacing:0.023px'>Activities</span><span class='t' style='left:26.23px;top:606px;font-size:12.1px;line-height:12.1px;color:#1b70c6;letter-spacing:-0.006px'>Tech Tower.pptx</span><span class='t' style='left:256.81px;top:606px;font-size:12.1px;line-height:12.1px;color:#2e3340;letter-spacing:0.688px'>pptx</span><span class='t' style='left:495.61px;top:606px;font-size:12.1px;line-height:12.1px;color:#2e3340;letter-spacing:-0.187px'>demoGroupShares2</span><span class='t' style='left:734.31px;top:606px;font-size:12.1px;line-height:12.1px;color:#1b70c6;letter-spacing:-0.304px'>/ENG_CIFS_volume/Sales/Tech</span><span class='t' style='left:734.24px;top:620px;font-size:12.1px;line-height:12.1px;color:#1b70c6;letter-spacing:0.157px'>Tower.pptx</span><span class='t' style='left:972.39px;top:607px;font-size:11.8px;line-height:11.8px;color:#2e3340;letter-spacing:0.202px'>39</span><span class='t' style='left:25.78px;top:649px;font-size:12.1px;line-height:12.1px;color:#1b70c6;letter-spacing:-0.100px'>Kevin_Obrien.xlsx</span><span class='t' style='left:257.12px;top:649px;font-size:12.1px;line-height:12.1px;color:#2e3340;letter-spacing:-0.066px'>xlsx</span><span class='t' style='left:495.61px;top:649px;font-size:12.1px;line-height:12.1px;color:#2e3340;letter-spacing:-0.187px'>demoGroupShares2</span><span class='t' style='left:734.31px;top:649px;font-size:12.1px;line-height:12.1px;color:#1b70c6;letter-spacing:-0.237px'>/ENG_CIFS_volume/Sales/Kevin_Obrien.xl</span><span class='t' style='left:733.98px;top:663px;font-size:12.1px;line-height:12.1px;color:#1b70c6;letter-spacing:-0.187px'>sx</span><span class='t' style='left:972.39px;top:650px;font-size:11.8px;line-height:11.8px;color:#2e3340;letter-spacing:0.202px'>37</span><span class='t' style='left:25.78px;top:693px;font-size:12.1px;line-height:12.1px;color:#1b70c6;letter-spacing:-0.113px'>Harrison_Ware.docx</span><span class='t' style='left:257.12px;top:693px;font-size:12.1px;line-height:12.1px;color:#2e3340;letter-spacing:0.335px'>docx</span><span class='t' style='left:495.61px;top:693px;font-size:12.1px;line-height:12.1px;color:#2e3340;letter-spacing:-0.187px'>demoGroupShares2</span><span class='t' style='left:734.31px;top:693px;font-size:12.1px;line-height:12.1px;color:#1b70c6;letter-spacing:-0.245px'>/ENG_CIFS_volume/Sales/Harrison_Ware.</span><span class='t' style='left:733.90px;top:707px;font-size:12.1px;line-height:12.1px;color:#1b70c6;letter-spacing:0.416px'>docx</span><span class='t' style='left:972.39px;top:694px;font-size:11.8px;line-height:11.8px;color:#2e3340;letter-spacing:0.025px'>35</span><span class='t' style='left:25.78px;top:736px;font-size:12.1px;line-height:12.1px;color:#1b70c6;letter-spacing:-0.098px'>Matter Shop Lifters.pptx</span><span class='t' style='left:256.81px;top:736px;font-size:12.1px;line-height:12.1px;color:#2e3340;letter-spacing:0.688px'>pptx</span><span class='t' style='left:495.61px;top:736px;font-size:12.1px;line-height:12.1px;color:#2e3340;letter-spacing:-0.187px'>demoGroupShares2</span><span class='t' style='left:734.31px;top:736px;font-size:12.1px;line-height:12.1px;color:#1b70c6;letter-spacing:-0.273px'>/ENG_CIFS_volume/Sales/Matter Shop</span><span class='t' style='left:733.61px;top:750px;font-size:12.1px;line-height:12.1px;color:#1b70c6;letter-spacing:0.171px'>Lifters.pptx</span><span class='t' style='left:972.39px;top:737px;font-size:11.8px;line-height:11.8px;color:#2e3340;letter-spacing:0.025px'>35</span>
</div></body></html>
